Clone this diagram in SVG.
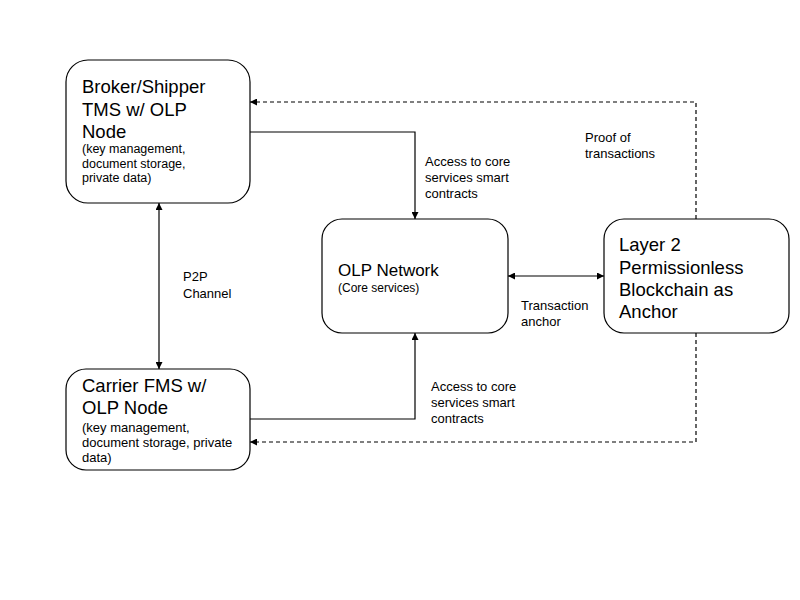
<svg xmlns="http://www.w3.org/2000/svg" width="800" height="600" viewBox="0 0 800 600">
<defs>
<marker id="ah" viewBox="0 0 10 10" refX="10" refY="5" markerWidth="7" markerHeight="7" markerUnits="userSpaceOnUse" orient="auto-start-reverse">
<path d="M0,0 L10,5 L0,10 z" fill="#000"/>
</marker>
<style>
.box{fill:#fff;stroke:#000;stroke-width:1.2}
.t{font-family:"Liberation Sans",Arial,sans-serif;font-size:18.5px;fill:#000}
.s{font-family:"Liberation Sans",Arial,sans-serif;font-size:12.5px;fill:#000}
.l{font-family:"Liberation Sans",Arial,sans-serif;font-size:13px;fill:#000}
.c{fill:none;stroke:#000;stroke-width:1.2}
.d{stroke-dasharray:4,3}
</style>
</defs>
<rect width="800" height="600" fill="#fff"/>
<g id="connectors">
<path class="c" d="M250,132 H415 V219" marker-end="url(#ah)"/>
<path class="c" d="M250,419 H415 V333" marker-end="url(#ah)"/>
<path class="c" d="M159,203 V369" marker-start="url(#ah)" marker-end="url(#ah)"/>
<path class="c" d="M508,276 H604" marker-start="url(#ah)" marker-end="url(#ah)"/>
<path class="c d" d="M696,219 V102 H250" marker-end="url(#ah)"/>
<path class="c d" d="M696,333 V442 H250" marker-end="url(#ah)"/>
<text class="l" x="425" y="166">Access to core</text>
<text class="l" x="425" y="182">services smart</text>
<text class="l" x="425" y="198">contracts</text>
<text class="l" x="431" y="391">Access to core</text>
<text class="l" x="431" y="407">services smart</text>
<text class="l" x="431" y="423">contracts</text>
<text class="l" x="183" y="281">P2P</text>
<text class="l" x="183" y="298">Channel</text>
<text class="l" x="521" y="310">Transaction</text>
<text class="l" x="521" y="326">anchor</text>
<text class="l" x="585" y="142">Proof of</text>
<text class="l" x="585" y="158">transactions</text>
</g>
<g id="broker">
<rect class="box" x="66" y="60" width="184" height="143" rx="22"/>
<text class="t" x="82" y="93">Broker/Shipper</text>
<text class="t" x="82" y="115.5">TMS w/ OLP</text>
<text class="t" x="82" y="137.5">Node</text>
<text class="s" x="82" y="153">(key management,</text>
<text class="s" x="82" y="167.5">document storage,</text>
<text class="s" x="82" y="182">private data)</text>
</g>
<g id="carrier">
<rect class="box" x="66" y="369" width="184" height="101" rx="20"/>
<text class="t" x="82" y="392">Carrier FMS w/</text>
<text class="t" x="82" y="414">OLP Node</text>
<text class="s" x="82" y="432" style="font-size:13px">(key management,</text>
<text class="s" x="82" y="447" style="font-size:13px">document storage, private</text>
<text class="s" x="82" y="461.5" style="font-size:13px">data)</text>
</g>
<g id="olp">
<rect class="box" x="322" y="219" width="186" height="114" rx="20"/>
<text class="t" x="338" y="276" style="font-size:17px">OLP Network</text>
<text class="s" x="338" y="292" style="font-size:12px">(Core services)</text>
</g>
<g id="layer2">
<rect class="box" x="604" y="219" width="185" height="114" rx="20"/>
<text class="t" x="619" y="251">Layer 2</text>
<text class="t" x="619" y="273.5">Permissionless</text>
<text class="t" x="619" y="296">Blockchain as</text>
<text class="t" x="619" y="318">Anchor</text>
</g>
</svg>
